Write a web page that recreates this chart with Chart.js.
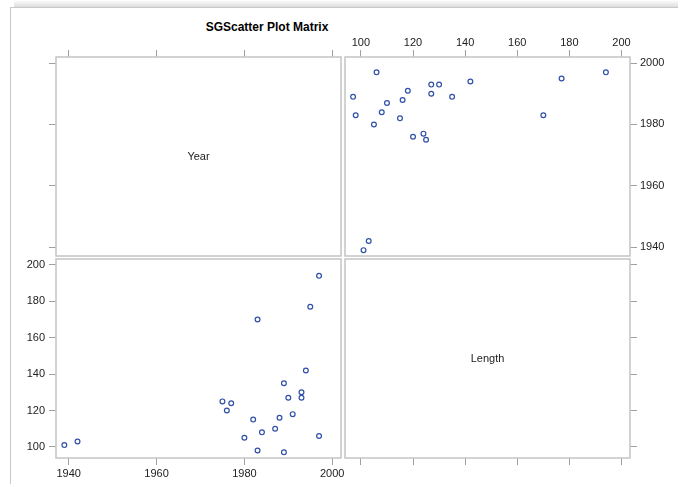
<!DOCTYPE html>
<html>
<head>
<meta charset="utf-8">
<script src="https://cdn.jsdelivr.net/npm/chart.js@4.4.1/dist/chart.umd.min.js"></script>
<style>
    body { margin: 0; background: #fff; }
    #page { position: relative; width: 678px; height: 484px; overflow: hidden; background: #fff; }
    #shade { position: absolute; left: 14px; top: 0; width: 664px; height: 7px;
             background: linear-gradient(to bottom, #fff, #dcdcdc); }
    #frame { position: absolute; left: 10px; top: 7px; width: 668px; height: 477px;
             border-left: 1px solid #c8c8c8; border-top: 1px solid #c8c8c8; box-sizing: border-box; }
    #title { position: absolute; left: 160px; width: 214px; top: 20px; text-align: center;
             font: bold 12px "Liberation Sans", Arial, sans-serif; color: #000; }
    canvas { position: absolute; left: 0; top: 0; }
</style>
</head>
<body>
<div id="page">
    <div id="shade"></div>
    <div id="frame"></div>
    <div id="title">SGScatter Plot Matrix</div>
    <canvas id="panelTL" width="678" height="484"></canvas>
    <canvas id="panelTR" width="678" height="484"></canvas>
    <canvas id="panelBL" width="678" height="484"></canvas>
    <canvas id="panelBR" width="678" height="484"></canvas>
</div>
<script>
const variables = ['Year', 'Length'];
const years   = [1939, 1942, 1975, 1976, 1977, 1980, 1982, 1983, 1983, 1984, 1987, 1988, 1989, 1989, 1990, 1991, 1993, 1993, 1994, 1995, 1997, 1997];
const lengths = [101, 103, 125, 120, 124, 105, 115, 170, 98, 108, 110, 116, 135, 97, 127, 118, 130, 127, 142, 177, 194, 106];
const yearTicks   = [1940, 1960, 1980, 2000];
const lengthTicks = [100, 120, 140, 160, 180, 200];

const yearRange   = [1937.1, 2002];
const lengthRange = [93.9, 203.25];

const W = 678, H = 484;
const AXIS_H = 24, AXIS_W = 40;
const tickGray = '#a0a0a0';
const markerBlue = '#3050a8';

Chart.defaults.font.family = '"Liberation Sans", Arial, sans-serif';
Chart.defaults.font.size = 11;

// box round the plot area + name of the variable on the diagonal
const panelBox = {
    id: 'panelBox',
    afterDraw(chart, args, opts) {
        const a = chart.chartArea;
        const ctx = chart.ctx;
        ctx.save();
        ctx.strokeStyle = '#c4c4c4';
        ctx.lineWidth = 1.5;
        ctx.strokeRect(a.left, a.top, a.right - a.left, a.bottom - a.top);
        if (opts.label) {
            ctx.fillStyle = '#222';
            ctx.font = '11px "Liberation Sans", Arial, sans-serif';
            ctx.textAlign = 'center';
            ctx.textBaseline = 'middle';
            ctx.fillText(opts.label, (a.left + a.right) / 2, (a.top + a.bottom) / 2);
        }
        ctx.restore();
    }
};

const labelPad = { top: 0, bottom: 2, left: 4, right: 3 };

function makeAxis(range, tickValues, position, showLabels) {
    const horizontal = position === 'top' || position === 'bottom';
    return {
        type: 'linear',
        position: position,
        min: range[0],
        max: range[1],
        afterBuildTicks: s => { s.ticks = tickValues.map(v => ({ value: v })); },
        afterFit: s => {
            if (horizontal) s.height = AXIS_H; else s.width = AXIS_W;
        },
        border: { display: false },
        grid: { drawOnChartArea: false, drawTicks: true, tickLength: 7, color: tickGray, lineWidth: 1 },
        ticks: {
            color: showLabels ? '#222' : 'rgba(0,0,0,0)',
            padding: labelPad[position],
            maxRotation: 0,
            autoSkip: false,
            callback: v => String(v)
        }
    };
}

function makePanel(id, rect, xAxis, yAxis, points, label) {
    const padding = {
        top: xAxis.position === 'top' ? rect.t - AXIS_H : rect.t,
        bottom: xAxis.position === 'bottom' ? H - rect.b - AXIS_H : H - rect.b,
        left: yAxis.position === 'left' ? rect.l - AXIS_W : rect.l,
        right: yAxis.position === 'right' ? W - rect.r - AXIS_W : W - rect.r
    };
    return new Chart(document.getElementById(id), {
        type: 'scatter',
        data: {
            datasets: [{
                data: points,
                pointStyle: 'circle',
                pointRadius: 2.4,
                pointBorderWidth: 1.2,
                pointBackgroundColor: 'rgba(255,255,255,0)',
                pointBorderColor: markerBlue
            }]
        },
        options: {
            responsive: false,
            animation: false,
            layout: { padding: padding },
            plugins: {
                legend: { display: false },
                tooltip: { enabled: false },
                panelBox: { label: label }
            },
            scales: { x: xAxis, y: yAxis }
        },
        plugins: [panelBox]
    });
}

const colL = { l: 56, r: 341 }, colR = { l: 345, r: 630 };
const rowT = { t: 57, b: 256 }, rowB = { t: 259, b: 458 };

const lengthVsYear = lengths.map((v, i) => ({ x: v, y: years[i] }));
const yearVsLength = years.map((v, i) => ({ x: v, y: lengths[i] }));

makePanel('panelTL', { ...colL, ...rowT },
    makeAxis(yearRange, yearTicks, 'top', false),
    makeAxis(yearRange, yearTicks, 'left', false),
    [], variables[0]);

makePanel('panelTR', { ...colR, ...rowT },
    makeAxis(lengthRange, lengthTicks, 'top', true),
    makeAxis(yearRange, yearTicks, 'right', true),
    lengthVsYear, null);

makePanel('panelBL', { ...colL, ...rowB },
    makeAxis(yearRange, yearTicks, 'bottom', true),
    makeAxis(lengthRange, lengthTicks, 'left', true),
    yearVsLength, null);

makePanel('panelBR', { ...colR, ...rowB },
    makeAxis(lengthRange, lengthTicks, 'bottom', false),
    makeAxis(lengthRange, lengthTicks, 'right', false),
    [], variables[1]);
</script>
</body>
</html>
